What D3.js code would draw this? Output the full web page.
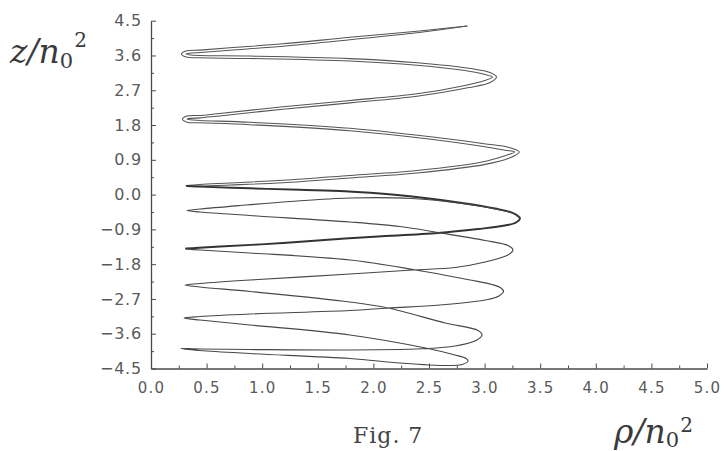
<!DOCTYPE html>
<html><head><meta charset="utf-8">
<script src="https://cdn.jsdelivr.net/npm/d3@7"></script>
<style>
html,body{margin:0;padding:0;background:#fff;}
svg{display:block;}
</style></head><body>
<svg id="chart" width="726" height="451"></svg>
<script>
// ---- tick values / labels ----
const xTicks = [0, 0.5, 1.0, 1.5, 2.0, 2.5, 3.0, 3.5, 4.0, 4.5, 5.0];
const xMinorTicks = [0.25, 0.75, 1.25, 1.75, 2.25, 2.75, 3.25, 3.75, 4.25, 4.75];
const yTicks = [-4.5, -3.6, -2.7, -1.8, -0.9, 0.0, 0.9, 1.8, 2.7, 3.6, 4.5];
const yMinorTicks = [-4.05, -3.15, -2.25, -1.35, -0.45, 0.45, 1.35, 2.25, 3.15, 4.05];

// ---- trajectory (rho, z) ----
// upper part: two nearly coincident traces
const traceOuter = [
  [2.842, 4.363], [2.392, 4.226], [1.789, 4.070], [1.187, 3.902], [0.710, 3.799],
  [0.441, 3.739], [0.315, 3.716], [0.274, 3.638], [0.315, 3.561], [0.441, 3.540],
  [0.890, 3.522], [1.789, 3.457], [2.392, 3.348], [2.824, 3.209], [2.995, 3.113],
  [3.071, 3.043], [2.995, 2.947], [2.824, 2.826], [2.392, 2.608], [1.789, 2.435],
  [1.187, 2.272], [0.594, 2.091], [0.441, 2.047], [0.324, 2.034], [0.283, 1.956],
  [0.324, 1.873], [0.441, 1.858], [0.890, 1.809], [1.789, 1.653], [2.536, 1.426],
  [2.977, 1.250], [3.183, 1.149], [3.271, 1.102], [3.183, 1.007], [2.977, 0.844],
  [2.392, 0.624], [1.789, 0.494], [1.187, 0.370], [0.710, 0.300], [0.441, 0.261],
  [0.315, 0.233]
];
const traceInner = [
  [2.842, 4.363], [2.392, 4.189], [1.789, 4.008], [1.187, 3.840], [0.710, 3.737],
  [0.441, 3.677], [0.342, 3.659], [0.315, 3.638], [0.342, 3.618], [0.441, 3.599],
  [0.890, 3.584], [1.789, 3.519], [2.392, 3.411], [2.860, 3.268], [3.049, 3.160],
  [3.107, 3.043], [3.049, 2.901], [2.860, 2.769], [2.392, 2.546], [1.789, 2.373],
  [1.187, 2.210], [0.594, 2.029], [0.441, 1.985], [0.351, 1.972], [0.324, 1.956],
  [0.351, 1.938], [0.441, 1.920], [0.890, 1.871], [1.789, 1.716], [2.536, 1.488],
  [2.995, 1.317], [3.219, 1.221], [3.312, 1.102], [3.219, 0.939], [2.995, 0.776],
  [2.392, 0.561], [1.789, 0.432], [1.187, 0.308], [0.710, 0.248], [0.441, 0.220],
  [0.324, 0.217]
];
// loop around rho ~ 3.3, z ~ -0.6 (overlapping traces)
const loopMiddle = [
  [0.324, 0.222], [0.441, 0.207], [0.890, 0.163], [1.340, 0.124], [1.745, 0.088],
  [2.059, 0.028], [2.347, -0.049], [2.797, -0.217], [3.094, -0.360], [3.255, -0.476],
  [3.318, -0.606], [3.282, -0.723], [3.183, -0.800], [2.941, -0.890], [2.581, -0.994],
  [2.041, -1.084], [1.745, -1.136], [1.187, -1.253], [0.621, -1.343], [0.396, -1.382],
  [0.315, -1.395]
];
// lower part: single trace
const traceLower = [
  [0.315, -1.403], [0.441, -1.434], [0.890, -1.511], [1.789, -1.692], [2.356, -1.938],
  [2.869, -2.210], [3.067, -2.326], [3.147, -2.417], [3.170, -2.508], [3.129, -2.624],
  [3.031, -2.715], [2.599, -2.857], [2.131, -2.935], [1.789, -2.999], [0.890, -3.090],
  [0.441, -3.155], [0.297, -3.193], [0.441, -3.245], [0.890, -3.374], [1.789, -3.633],
  [2.491, -3.983], [2.734, -4.151], [2.833, -4.241], [2.851, -4.306], [2.797, -4.397],
  [2.644, -4.423], [2.239, -4.358], [1.789, -4.241], [0.890, -4.112], [0.441, -4.034],
  [0.270, -3.983], [0.441, -3.996], [0.890, -4.009], [1.789, -4.021], [2.491, -3.983],
  [2.734, -3.918], [2.923, -3.776], [2.977, -3.633], [2.941, -3.517], [2.644, -3.322],
  [2.131, -2.935], [1.789, -2.779], [0.890, -2.508], [0.441, -2.391], [0.306, -2.339],
  [0.441, -2.301], [0.890, -2.210], [1.789, -2.055], [2.356, -1.951], [2.734, -1.887],
  [3.004, -1.744], [3.210, -1.563], [3.255, -1.434], [3.210, -1.317], [3.004, -1.188],
  [2.581, -0.981], [2.239, -0.826], [1.789, -0.709], [0.890, -0.541], [0.441, -0.450],
  [0.324, -0.412], [0.441, -0.373], [0.800, -0.282], [1.250, -0.179], [1.789, -0.088],
  [2.347, -0.101], [2.797, -0.230], [3.094, -0.373], [3.255, -0.489], [3.309, -0.593]
];

// ---- layout ----
const svg = d3.select("#chart");
const x = d3.scaleLinear().domain([0, 5]).range([151, 707]);
const y = d3.scaleLinear().domain([-4.5, 4.5]).range([368.5, 20.7]);
const axisColor = "#4a4a4a";
const labelColor = "#5a5a5a";

// x axis
const gx = svg.append("g").attr("transform", `translate(0,${y(-4.5)})`)
  .call(d3.axisBottom(x).tickValues(xTicks).tickFormat(d3.format(".1f"))
    .tickSizeInner(-5).tickSizeOuter(0).tickPadding(14));
const gxm = svg.append("g").attr("transform", `translate(0,${y(-4.5)})`)
  .call(d3.axisBottom(x).tickValues(xMinorTicks).tickFormat("").tickSize(-3));
gxm.select(".domain").remove();

// y axis
const gy = svg.append("g").attr("transform", `translate(${x(0)},0)`)
  .call(d3.axisLeft(y).tickValues(yTicks).tickFormat(d3.format(".1f"))
    .tickSizeInner(-5).tickSizeOuter(0).tickPadding(9));
const gym = svg.append("g").attr("transform", `translate(${x(0)},0)`)
  .call(d3.axisLeft(y).tickValues(yMinorTicks).tickFormat("").tickSize(-3));
gym.select(".domain").remove();

svg.selectAll(".domain").attr("stroke", axisColor).attr("stroke-width", 1.3);
svg.selectAll(".tick line").attr("stroke", axisColor).attr("stroke-width", 1);
gx.selectAll("text").attr("font-family", "DejaVu Sans, sans-serif").attr("font-size", 15)
  .attr("fill", labelColor).style("letter-spacing", "1.2px");
gy.selectAll("text").attr("font-family", "DejaVu Sans, sans-serif").attr("font-size", 16)
  .attr("fill", labelColor).style("letter-spacing", "0.8px");

// curves
const line = d3.line().x(d => x(d[0])).y(d => y(d[1])).curve(d3.curveCatmullRom.alpha(0.5));
const curves = svg.append("g").attr("fill", "none").attr("stroke-linejoin", "round").attr("stroke-linecap", "round");
curves.append("path").attr("d", line(traceOuter)).attr("stroke", "#555").attr("stroke-width", 1.05);
curves.append("path").attr("d", line(traceInner)).attr("stroke", "#555").attr("stroke-width", 1.05);
curves.append("path").attr("d", line(loopMiddle)).attr("stroke", "#333").attr("stroke-width", 1.9);
curves.append("path").attr("d", line(traceLower)).attr("stroke", "#474747").attr("stroke-width", 1.15);

// axis titles
const zt = svg.append("text").attr("x", 10).attr("y", 63)
  .attr("font-family", "DejaVu Serif, serif").attr("fill", "#3a3a3a");
zt.append("tspan").attr("font-style", "italic").attr("font-size", 33).text("z/n");
zt.append("tspan").attr("font-size", 21).attr("dy", 5).text("0");
zt.append("tspan").attr("font-size", 20).attr("dx", 1).attr("dy", -21).text("2");

const rt = svg.append("text").attr("x", 614).attr("y", 443)
  .attr("font-family", "DejaVu Serif, serif").attr("fill", "#3a3a3a");
rt.append("tspan").attr("font-style", "italic").attr("font-size", 33).text("ρ/n");
rt.append("tspan").attr("font-size", 21).attr("dy", 4).text("0");
rt.append("tspan").attr("font-size", 20).attr("dx", 1).attr("dy", -15).text("2");

svg.append("text").attr("x", 353).attr("y", 443)
  .attr("font-family", "DejaVu Serif, serif").attr("font-size", 22).attr("fill", "#444")
  .style("letter-spacing", "1px").text("Fig. 7");
</script>
</body></html>
